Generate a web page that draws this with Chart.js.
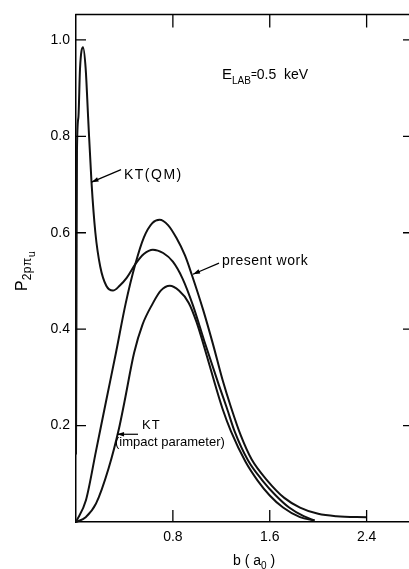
<!DOCTYPE html>
<html><head><meta charset="utf-8">
<script src="https://cdn.jsdelivr.net/npm/chart.js@4.4.0/dist/chart.umd.min.js"></script>
<style>html,body{margin:0;padding:0;background:#fff;overflow:hidden}canvas{display:block}</style>
</head><body>
<canvas id="c" width="409" height="569"></canvas>
<script>
// b (a0) values and P values
const kqmB = [0, 0.004, 0.008, 0.02, 0.033, 0.058, 0.08, 0.10, 0.128, 0.16, 0.2, 0.25, 0.305, 0.36, 0.42, 0.49, 0.56, 0.635, 0.72, 0.8, 0.88, 0.965, 1.06, 1.18, 1.245, 1.31, 1.42, 1.54, 1.65, 1.76, 1.88, 1.97];
const kqmP = [0.14, 0.45, 0.77, 0.84, 0.94, 0.985, 0.94, 0.84, 0.705, 0.6, 0.53, 0.49, 0.48, 0.49, 0.507, 0.535, 0.556, 0.565, 0.558, 0.54, 0.505, 0.45, 0.375, 0.284, 0.237, 0.188, 0.128, 0.086, 0.055, 0.03, 0.012, 0.003];

const presentB = [0, 0.082, 0.165, 0.247, 0.33, 0.41, 0.49, 0.56, 0.63, 0.69, 0.76, 0.83, 0.9, 0.955, 1.05, 1.13, 1.21, 1.28, 1.36, 1.45, 1.58, 1.72, 1.85, 2.0, 2.15, 2.4];
const presentP = [0, 0.045, 0.147, 0.249, 0.351, 0.453, 0.535, 0.59, 0.62, 0.627, 0.616, 0.589, 0.553, 0.514, 0.44, 0.37, 0.295, 0.238, 0.18, 0.13, 0.086, 0.05, 0.03, 0.017, 0.012, 0.01];

const kipB = [0, 0.08, 0.165, 0.27, 0.355, 0.40, 0.48, 0.55, 0.633, 0.7, 0.775, 0.85, 0.93, 0.995, 1.08, 1.15, 1.21, 1.28, 1.40, 1.50, 1.60, 1.71, 1.85, 1.97];
const kipP = [0, 0.01, 0.038, 0.112, 0.194, 0.249, 0.351, 0.41, 0.453, 0.48, 0.49, 0.48, 0.455, 0.415, 0.345, 0.284, 0.235, 0.188, 0.125, 0.086, 0.055, 0.03, 0.01, 0.003];

const xTicks = [0.8, 1.6, 2.4];
const yTicks = [0.2, 0.4, 0.6, 0.8, 1.0];

const FONT = "'Liberation Sans', Arial, sans-serif";

// annotation labels (data coordinates)
const labels = [
  {x: 1.206, y: 0.918, runs: [{t:'E', s:15, dy:0}, {t:'LAB', s:10, dy:5}, {t:'=', s:10, dy:-1}, {t:'0.5  keV', s:14, dy:0}]},
  {x: 0.396, y: 0.712, runs: [{t:'KT(QM)', s:14, dy:0, ls:1.5}]},
  {x: 1.206, y: 0.533, runs: [{t:'present work', s:14, dy:0, ls:0.5}]},
  {x: 0.545, y: 0.192, runs: [{t:'KT', s:13, dy:0, ls:1}]},
  {x: 0.322, y: 0.157, runs: [{t:'(impact parameter)', s:13, dy:0}]}
];
const arrows = [
  {from: [0.372, 0.731], to: [0.128, 0.705]},
  {from: [1.181, 0.537], to: [0.966, 0.514]},
  {from: [0.512, 0.182], to: [0.339, 0.182]}
];

function pts(bs, ps){ return bs.map((b,i)=>({x:b, y:ps[i]})); }

function drawRuns(ctx, x, y, runs){
  let cx = x;
  runs.forEach(r=>{
    ctx.font = r.s + 'px ' + FONT;
    ctx.letterSpacing = (r.ls||0) + 'px';
    ctx.fillText(r.t, cx, y + r.dy);
    cx += ctx.measureText(r.t).width;
  });
  ctx.letterSpacing = '0px';
}

const decor = {
  id: 'decor',
  afterDraw(chart){
    const {ctx, chartArea:a, scales:{x, y}} = chart;
    ctx.save();
    ctx.strokeStyle = '#000'; ctx.fillStyle = '#000'; ctx.lineWidth = 1.5;
    ctx.beginPath(); ctx.moveTo(a.left - 0.75, a.top); ctx.lineTo(a.right, a.top); ctx.stroke();
    ctx.lineWidth = 1.3;
    yTicks.forEach(v=>{
      const py = y.getPixelForValue(v);
      ctx.beginPath();
      ctx.moveTo(a.left, py); ctx.lineTo(a.left + 10, py);
      ctx.moveTo(a.right, py); ctx.lineTo(a.right - 6, py);
      ctx.stroke();
    });
    xTicks.forEach(v=>{
      const px = x.getPixelForValue(v);
      ctx.beginPath();
      ctx.moveTo(px, a.bottom); ctx.lineTo(px, a.bottom - 12);
      ctx.moveTo(px, a.top); ctx.lineTo(px, a.top + 13);
      ctx.stroke();
    });
    // arrows
    ctx.lineWidth = 1.2;
    arrows.forEach(ar=>{
      const x1 = x.getPixelForValue(ar.from[0]), y1 = y.getPixelForValue(ar.from[1]);
      const x2 = x.getPixelForValue(ar.to[0]), y2 = y.getPixelForValue(ar.to[1]);
      ctx.beginPath(); ctx.moveTo(x1, y1); ctx.lineTo(x2, y2); ctx.stroke();
      const ang = Math.atan2(y2 - y1, x2 - x1);
      const L = 7, W = 2.3;
      ctx.beginPath();
      ctx.moveTo(x2, y2);
      ctx.lineTo(x2 - L*Math.cos(ang) + W*Math.sin(ang), y2 - L*Math.sin(ang) - W*Math.cos(ang));
      ctx.lineTo(x2 - L*Math.cos(ang) - W*Math.sin(ang), y2 - L*Math.sin(ang) + W*Math.cos(ang));
      ctx.closePath(); ctx.fill();
    });
    // labels
    ctx.textBaseline = 'alphabetic'; ctx.textAlign = 'left';
    labels.forEach(l=>{
      drawRuns(ctx, x.getPixelForValue(l.x), y.getPixelForValue(l.y), l.runs);
    });
    // x axis title
    drawRuns(ctx, 233, a.bottom + 43, [{t:'b ( a', s:14, dy:0}, {t:'0', s:10, dy:4}, {t:' )', s:14, dy:0}]);
    // y axis title
    ctx.save();
    ctx.translate(27, 291);
    ctx.rotate(-Math.PI/2);
    drawRuns(ctx, 0, 0, [{t:'P', s:16, dy:0}, {t:'2pπ', s:12, dy:4, ls:0.5}, {t:'u', s:11, dy:8}]);
    ctx.restore();
    ctx.restore();
  }
};

const lineStyle = {borderColor:'#111', borderWidth:2, pointRadius:0, fill:false, cubicInterpolationMode:'monotone', clip:false};

new Chart(document.getElementById('c'), {
  type: 'line',
  data: {
    datasets: [
      Object.assign({label:'KT(QM)', data: pts(kqmB, kqmP)}, lineStyle),
      Object.assign({label:'present work', data: pts(presentB, presentP)}, lineStyle),
      Object.assign({label:'KT (impact parameter)', data: pts(kipB, kipP)}, lineStyle)
    ]
  },
  options: {
    responsive: false,
    animation: false,
    layout: {padding: {top: 6, right: 0, bottom: 0, left: 0}},
    plugins: {legend: {display:false}, tooltip: {enabled:false}},
    scales: {
      x: {
        type: 'linear', min: 0, max: 2.75,
        grid: {display: false, drawTicks: false},
        border: {display: true, color: '#000', width: 1.5},
        afterBuildTicks: s => { s.ticks = xTicks.map(v=>({value:v})); },
        afterFit: s => { s.height = 47; },
        ticks: {color:'#000', font:{family:FONT, size:14}, padding:7, callback: v => v.toFixed(1), maxRotation:0}
      },
      y: {
        type: 'linear', min: 0, max: 1.053,
        grid: {display: false, drawTicks: false},
        border: {display: true, color: '#000', width: 1.5},
        afterBuildTicks: s => { s.ticks = yTicks.map(v=>({value:v})); },
        afterFit: s => { s.width = 76; },
        ticks: {color:'#000', font:{family:FONT, size:14}, padding:6, callback: v => v.toFixed(1)}
      }
    }
  },
  plugins: [decor]
});
</script>
</body></html>
